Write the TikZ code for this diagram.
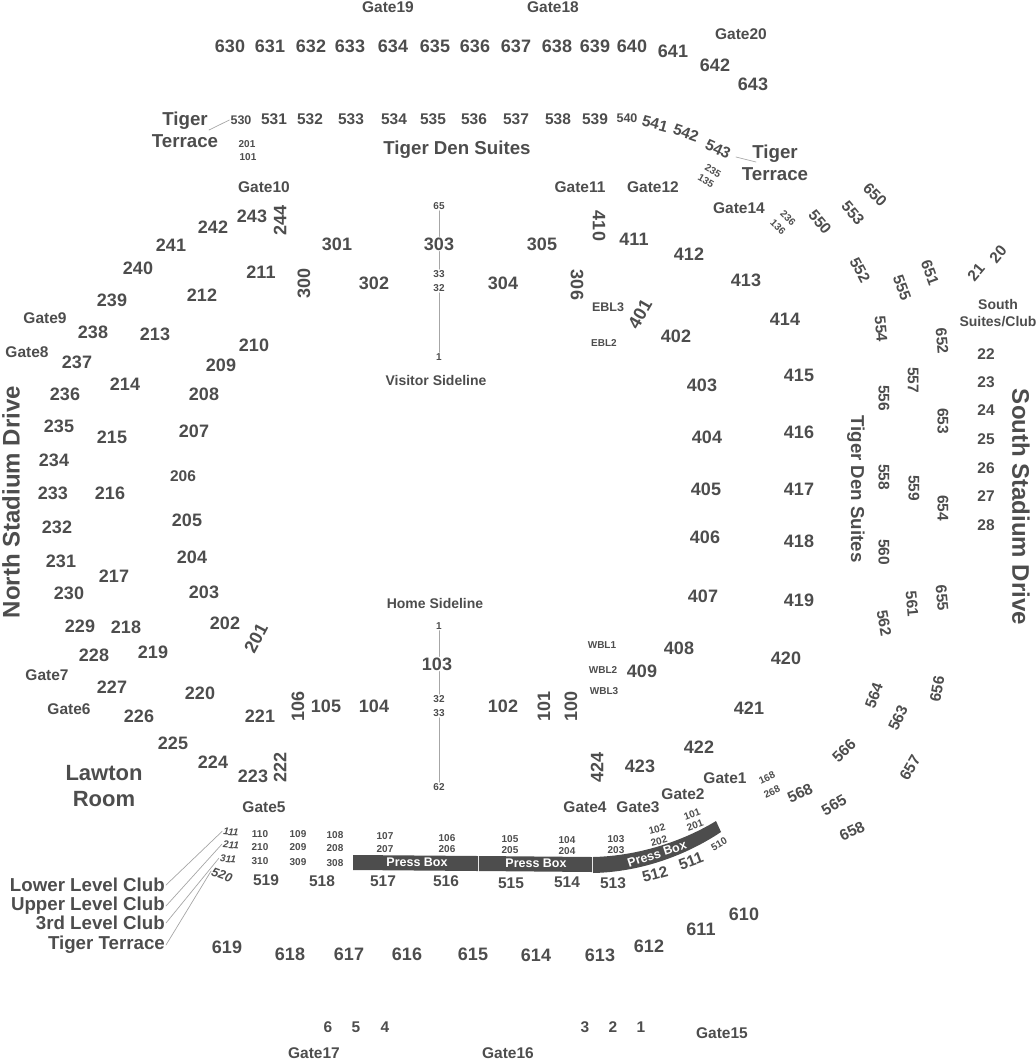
\documentclass[tikz,border=0pt]{standalone}
\usepackage{fontspec}
\setmainfont{Liberation Sans}
\usepackage{tikz}

\definecolor{seatgray}{HTML}{4D4D4D}
\definecolor{leadgray}{HTML}{A6A6A6}

% one label per entry: x/y/text/angle
\newcommand{\putlabels}[3]{%
  \foreach \px/\py/\lab/\ang in {#3}
    \node [#1, name=#2\lab, rotate=\ang] at (\px,\py) {\lab};%
}

\begin{document}
\begin{tikzpicture}[
  x=1pt,
  y=-1pt,
  line cap=round,
  line join=round,
  every node/.style={text=seatgray, inner sep=1pt, align=center},
  bigsec/.style={font=\fontsize{18}{20}\selectfont\bfseries},
  lowsec/.style={font=\fontsize{15.5}{18}\selectfont\bfseries},
  smallsec/.style={font=\fontsize{12.5}{15}\selectfont\bfseries},
  tinysec/.style={font=\fontsize{10}{12}\selectfont\bfseries},
  gatelab/.style={font=\fontsize{15.5}{18}\selectfont\bfseries},
  sidelab/.style={font=\fontsize{14}{16.5}\selectfont\bfseries},
  titlelab/.style={font=\fontsize{18.7}{22}\selectfont\bfseries},
  roadlab/.style={font=\fontsize{24}{26}\selectfont\bfseries},
  leader/.style={draw=leadgray, line width=0.7pt},
  pressbox/.style={fill=seatgray},
  presslab/.style={text=white, font=\fontsize{12.5}{14}\selectfont\bfseries}
]

\useasboundingbox (0,0) rectangle (1036,1061);

% top rows
\putlabels{bigsec}{up}{230/46/630/0, 270/46/631/0, 311/46/632/0, 350/46/633/0, 393/46/634/0,
  435/46/635/0, 475/46/636/0, 516/46/637/0, 557/46/638/0, 595/46/639/0, 632/46/640/0,
  673/51/641/0, 715/65/642/0, 753/84/643/0}
\putlabels{lowsec}{ter}{274/119/531/0, 310/119/532/0, 351/119/533/0, 394/119/534/0, 433/119/535/0,
  474/119/536/0, 516/119/537/0, 558/119/538/0, 595/119/539/0,
  655/124/541/-15, 686/133/542/-20, 718/149/543/-25}
\putlabels{smallsec}{ter}{241/120/530/0, 627/118/540/0}

% gates
\putlabels{gatelab}{}{388/7/Gate19/0, 553/7/Gate18/0, 741/34/Gate20/0, 264/187/Gate10/0,
  580/187/Gate11/0, 653/187/Gate12/0, 739/208/Gate14/0, 45/318/Gate9/0, 27/352/Gate8/0,
  47/675/Gate7/0, 69/709/Gate6/0, 264/807/Gate5/0, 585/807/Gate4/0, 638/807/Gate3/0,
  683/794/Gate2/0, 725/778/Gate1/0, 722/1033/Gate15/0, 314/1053/Gate17/0, 508/1053/Gate16/0}

% 200 level
\putlabels{bigsec}{two}{252/216/243/0, 280/220/244/90, 213/227/242/0, 171/245/241/0, 138/268/240/0,
  112/300/239/0, 93/332/238/0, 77/362/237/0, 65/394/236/0, 59/426/235/0, 54/460/234/0,
  53/493/233/0, 57/527/232/0, 61/561/231/0, 69/593/230/0, 80/626/229/0, 94/655/228/0,
  112/687/227/0, 139/716/226/0, 173/743/225/0, 213/762/224/0, 253/776/223/0, 280/767/222/90,
  260/716/221/0, 200/693/220/0, 153/652/219/0, 126/627/218/0, 114/576/217/0, 110/493/216/0,
  112/437/215/0, 125/384/214/0, 155/334/213/0, 202/295/212/0, 261/272/211/0, 254/345/210/0,
  221/365/209/0, 204/394/208/0, 194/431/207/0, 187/520/205/0, 192/557/204/0, 204/592/203/0,
  225/623/202/0, 256/638/201/62}
\putlabels{lowsec}{two}{183/476/206/0}

% 100, 300, 400 level
\putlabels{bigsec}{low}{298/706/106/90, 326/706/105/0, 374/706/104/0, 437/664/103/0, 503/706/102/0,
  544/706/101/90, 571/706/100/90, 304/283/300/90, 337/244/301/0, 374/283/302/0, 439/244/303/0,
  503/283/304/0, 542/244/305/0, 577/285/306/-90, 599/226/410/-90, 634/239/411/0, 689/254/412/0,
  746/280/413/0, 785/319/414/0, 799/375/415/0, 799/432/416/0, 799/489/417/0, 799/541/418/0,
  799/600/419/0, 786/658/420/0, 749/708/421/0, 699/747/422/0, 640/766/423/0, 597/767/424/90,
  640/314/401/60, 676/336/402/0, 702/385/403/0, 707/437/404/0, 706/489/405/0, 705/537/406/0,
  703/596/407/0, 679/648/408/0, 642/671/409/0}

% sidelines
\putlabels{tinysec}{vis}{439/206/65/0, 439/274/33/0, 439/288/32/0, 439/357/1/0}
\putlabels{tinysec}{hom}{439/626/1/0, 439/699/32/0, 439/713/33/0, 439/787/62/0}
\node [sidelab] (vissideline) at (436,380) {Visitor Sideline};
\node [sidelab] (homesideline) at (435,603) {Home Sideline};
\draw [leader] (vis65) -- (vis65 |- low303.north);
\draw [leader] (vis33) -- (vis33 |- low303.south);
\draw [leader] (vis32) -- (vis1);
\draw [leader] (hom1) -- (hom1 |- low103.north);
\draw [leader] (hom32) -- (hom32 |- low103.south);
\draw [leader] (hom33) -- (hom62);

\putlabels{smallsec}{}{608/307/EBL3/0}
\putlabels{tinysec}{}{604/343/EBL2/0}
\putlabels{tinysec}{}{602/645/WBL1/0, 603/670/WBL2/0, 604/691/WBL3/0}

% right side
\putlabels{lowsec}{rgt}{820/222/550/-50, 853/213/553/-50, 875/195/650/-45, 860/270/552/-62,
  902/288/555/-70, 930/273/651/-70, 976/272/21/50, 998/254/20/50, 881/329/554/-85, 942/341/652/-85,
  986/354/22/0, 986/382/23/0, 986/410/24/0, 986/439/25/0, 986/468/26/0, 986/496/27/0, 986/525/28/0,
  884/398/556/-90, 913/380/557/-90, 943/421/653/-90, 884/477/558/-90, 914/488/559/-90, 943/508/654/-90,
  884/552/560/-90, 912/604/561/-85, 942/598/655/-85, 884/623/562/-80, 874/696/564/70, 898/718/563/65,
  937/689/656/80, 844/751/566/45, 910/768/657/60, 800/793/568/25, 834/805/565/30, 852/831/658/25}
\node [sidelab] (southsuites) at (998,313) {South\\Suites/Club};
\node [titlelab, rotate=-90] (tigerdeneast) at (856,489) {Tiger Den Suites};
\node [titlelab] (tigerdentop) at (457,150) {Tiger Den Suites};
\node [roadlab, rotate=-90] (southdrive) at (1021,507) {South Stadium Drive};
\node [roadlab, rotate=90] (northdrive) at (11,502) {North Stadium Drive};
\node [font=\fontsize{22}{26}\selectfont\bfseries] (lawton) at (104,786) {Lawton\\Room};

% tiger terrace
\node [titlelab] (terraceleft) at (185,130) {Tiger\\Terrace};
\node [titlelab] (terraceright) at (775,163) {Tiger\\Terrace};
\coordinate (terraceleftend) at (209,130);
\coordinate (terracerightstart) at (736,157);
\coordinate (terracerightend) at (756,162);
\draw [leader] (terraceleftend) -- (ter530.west);
\draw [leader] (terracerightstart) -- (terracerightend);
\putlabels{tinysec}{ins}{713/171/235/-30, 706/181/135/-30, 788/218/236/-45, 778/227/136/-45,
  767/778/168/25, 772/792/268/25, 247/144/201/0, 248/157/101/0}

% club rows
\putlabels{tinysec, font=\fontsize{10}{12}\selectfont\bfseries\itshape}{club}{231/832/111/-5, 231/845/211/-5, 228/859/311/-5}
\putlabels{tinysec}{club}{260/834/110/0, 298/834/109/0,
  335/835/108/0, 260/847/210/0, 298/847/209/0, 335/848/208/0, 260/861/310/0, 298/862/309/0, 335/863/308/0,
  385/836/107/0, 385/849/207/0, 447/838/106/0, 447/849/206/0, 510/839/105/0, 510/850/205/0,
  567/840/104/0, 567/851/204/0, 616/839/103/0, 616/850/203/0, 657/829/102/15, 659/841/202/15,
  692/814/101/20, 695/825/201/20, 719/844/510/30}

% press box
\fill [pressbox] (353,855) -- (478,856) -- (478,871) -- (353,870) -- cycle;
\fill [pressbox] (479,856) -- (592,857) -- (592,872) -- (479,871) -- cycle;
\fill [pressbox] (593,857) .. controls (640,856) and (685,840) .. (716,821)
  -- (721,832) .. controls (685,856) and (640,872) .. (593,873) -- cycle;
\node [presslab] (pressone) at (417,862) {Press Box};
\node [presslab] (presstwo) at (536,863) {Press Box};
\node [presslab, rotate=18] (pressthree) at (657,854) {Press Box};

% lower rows
\putlabels{smallsec, font=\fontsize{12.5}{15}\selectfont\bfseries\itshape}{bot}{222/875/520/-20}
\putlabels{lowsec}{bot}{266/880/519/0, 322/881/518/0, 383/881/517/0, 446/881/516/0,
  511/883/515/0, 567/882/514/0, 613/883/513/0, 655/874/512/15, 691/861/511/20}
\putlabels{bigsec}{far}{227/947/619/0, 290/954/618/0, 349/954/617/0, 407/954/616/0, 473/954/615/0,
  536/955/614/0, 600/955/613/0, 649/946/612/0, 701/929/611/0, 744/914/610/0}
\putlabels{lowsec}{far}{328/1027/6/0, 356/1027/5/0, 385/1027/4/0, 585/1027/3/0, 613/1027/2/0, 641/1027/1/0}

% club key
\node [titlelab, anchor=east] (lowerclub) at (166,885) {Lower Level Club};
\node [titlelab, anchor=east] (upperclub) at (166,906) {Upper Level Club};
\node [titlelab, anchor=east] (thirdclub) at (166,923) {3rd Level Club};
\node [titlelab, anchor=east] (tigerclub) at (166,945) {Tiger Terrace};
\draw [leader] (lowerclub.east) -- (club111.west);
\draw [leader] (upperclub.east) -- (club211.west);
\draw [leader] (thirdclub.east) -- (club311.west);
\draw [leader] (tigerclub.east) -- (bot520.west);

\end{tikzpicture}
\end{document}
